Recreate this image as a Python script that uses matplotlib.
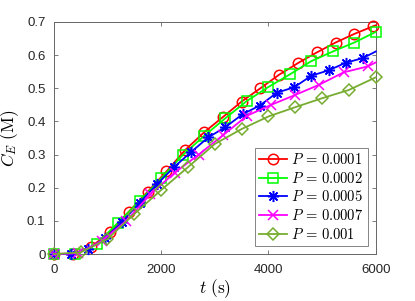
import matplotlib
matplotlib.use("Agg")
import matplotlib.pyplot as plt

plt.rcParams['font.family'] = ['Liberation Sans', 'DejaVu Sans']
plt.rcParams['mathtext.fontset'] = 'cm'

# ===== data =====
labels = [r'$P\,=\,0.0001$', r'$P\,=\,0.0002$', r'$P\,=\,0.0005$',
          r'$P\,=\,0.0007$', r'$P\,=\,0.001$']

t_p1 = [0, 350, 700, 1050, 1400, 1750, 2100, 2450, 2800, 3150, 3500, 3850,
        4200, 4550, 4900, 5250, 5600, 5950, 6000]
c_p1 = [0, 0.0, 0.022, 0.067, 0.128, 0.188, 0.249, 0.314, 0.367, 0.413, 0.460,
        0.500, 0.541, 0.576, 0.608, 0.638, 0.664, 0.687, 0.690]

t_p2 = [0, 400, 800, 1200, 1600, 2000, 2400, 2800, 3200, 3600, 4000, 4400,
        4800, 5200, 5600, 6000]
c_p2 = [0, 0.0, 0.030, 0.095, 0.160, 0.228, 0.298, 0.356, 0.410, 0.462, 0.504,
        0.542, 0.582, 0.611, 0.638, 0.670]

t_p3 = [0, 320, 640, 960, 1280, 1600, 1920, 2240, 2560, 2880, 3200, 3520,
        3840, 4160, 4480, 4800, 5120, 5440, 5760, 6000]
c_p3 = [0, 0.0, 0.015, 0.048, 0.098, 0.155, 0.210, 0.262, 0.308, 0.352, 0.383,
        0.422, 0.448, 0.487, 0.503, 0.538, 0.554, 0.577, 0.591, 0.611]

t_p4 = [0, 450, 900, 1350, 1800, 2250, 2700, 3150, 3600, 4050, 4500, 4950,
        5400, 5850, 6000]
c_p4 = [0, 0.002, 0.040, 0.100, 0.180, 0.245, 0.300, 0.358, 0.417, 0.450,
        0.480, 0.511, 0.548, 0.566, 0.578]

t_p5 = [0, 500, 1000, 1500, 2000, 2500, 3000, 3500, 4000, 4500, 5000, 5500, 6000]
c_p5 = [0, 0.005, 0.045, 0.121, 0.193, 0.262, 0.332, 0.377, 0.415, 0.443,
        0.470, 0.495, 0.533]

series = [(t_p1, c_p1), (t_p2, c_p2), (t_p3, c_p3), (t_p4, c_p4), (t_p5, c_p5)]
colors = ['#FF0000', '#00FF00', '#0000FF', '#FF00FF', '#77AC30']
markers = ['o', 's', (8, 2, 0), 'x', 'D']
msizes = [7.5, 6.5, 8, 6.5, 6.5]
# last point is a line end without a marker for some series
has_tail = [True, False, True, True, False]

# ===== plot =====
fig = plt.figure(figsize=(4.15, 3.01), dpi=100)
ax = fig.add_axes([0.1295, 0.156, 0.776, 0.771])

for (t, c), col, m, ms, lab, tail in zip(series, colors, markers, msizes, labels, has_tail):
    idx = list(range(len(t) - 1)) if tail else list(range(len(t)))
    ax.plot(t, c, color=col, marker=m, markersize=ms, markevery=idx,
            markerfacecolor='none', markeredgewidth=1.1, linewidth=1.3,
            label=lab, clip_on=False, zorder=3)

ax.set_xlim(0, 6000)
ax.set_ylim(0, 0.7)
ax.set_xticks([0, 2000, 4000, 6000])
ax.set_yticks([0, 0.1, 0.2, 0.3, 0.4, 0.5, 0.6, 0.7])
ax.set_yticklabels(['0', '0.1', '0.2', '0.3', '0.4', '0.5', '0.6', '0.7'])
ax.tick_params(direction='in', length=3, width=0.6, colors='#666666',
               labelcolor='#262626', labelsize=9.5, top=True, right=True)
ax.tick_params(axis='x', pad=7)
ax.tick_params(axis='y', pad=6)
for s in ax.spines.values():
    s.set_color('#666666')
    s.set_linewidth(0.7)

ax.set_xlabel(r'$t\ (\mathrm{s})$', fontsize=12.5, labelpad=1)
ax.set_ylabel(r'$C_E\ (\mathrm{M})$', fontsize=12.5, labelpad=4)

leg = ax.legend(loc='lower right', fontsize=10.5, frameon=True, fancybox=False,
                handlelength=1.9, borderaxespad=0.55, labelspacing=0.25,
                handletextpad=0.3, borderpad=0.3)
leg.get_frame().set_edgecolor('#666666')
leg.get_frame().set_linewidth(0.7)

fig.savefig('out.png', dpi=100)
